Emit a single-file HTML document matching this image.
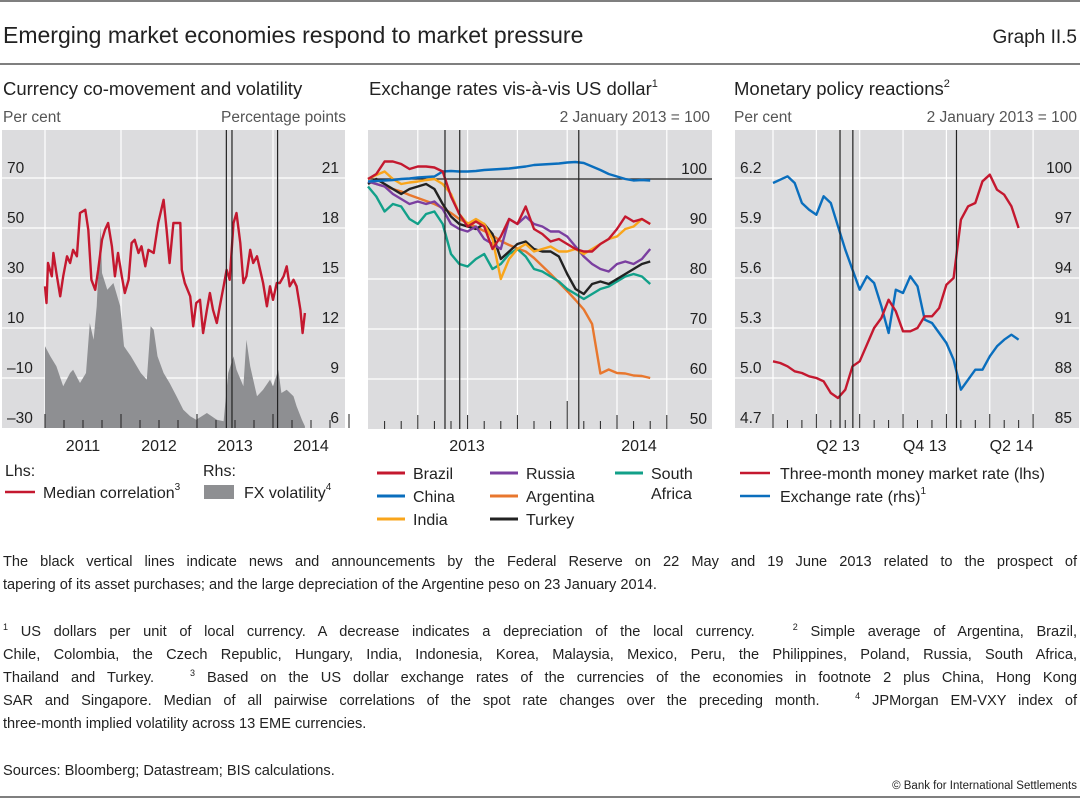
<!DOCTYPE html>
<html><head><meta charset="utf-8"><style>
body{margin:0;background:#fff;}
#wrap{position:relative;width:1080px;height:800px;overflow:hidden;font-family:"Liberation Sans",sans-serif;color:#222;}
.p{position:absolute;left:3px;width:1074px;height:23px;font-size:14.6px;line-height:23px;text-align:justify;text-align-last:justify;white-space:nowrap;overflow:visible;}
.l{text-align-last:left;}
.s{font-size:9px;position:relative;top:-6px;line-height:0;}
</style></head><body>
<div id="wrap">
<svg id="svg" width="1080" height="800" style="position:absolute;left:0;top:0">
<line x1="0" y1="1" x2="1080" y2="1" stroke="#555" stroke-width="1.5"/>
<line x1="0" y1="64" x2="1080" y2="64" stroke="#555" stroke-width="1.5"/>
<line x1="0" y1="797" x2="1080" y2="797" stroke="#555" stroke-width="1.5"/>
<text x="3" y="43" font-size="23" fill="#222">Emerging market economies respond to market pressure</text>
<text x="1077" y="43" font-size="19" fill="#222" text-anchor="end">Graph II.5</text>
<text x="3" y="95" font-size="18.5" fill="#222">Currency co-movement and volatility</text>
<text x="369" y="95" font-size="18.5" fill="#222">Exchange rates vis-à-vis US dollar<tspan font-size="11" dy="-8">1</tspan></text>
<text x="734" y="95" font-size="18.5" fill="#222">Monetary policy reactions<tspan font-size="11" dy="-8">2</tspan></text>
<text x="3" y="122" font-size="15.5" fill="#555">Per cent</text>
<text x="346" y="122" font-size="15.5" fill="#555" text-anchor="end">Percentage points</text>
<text x="710" y="122" font-size="15.5" fill="#555" text-anchor="end">2 January 2013 = 100</text>
<text x="734" y="122" font-size="15.5" fill="#555">Per cent</text>
<text x="1077" y="122" font-size="15.5" fill="#555" text-anchor="end">2 January 2013 = 100</text>
<g id="g1"></g><g id="g2"></g><g id="g3"></g>
<g font-size="16" fill="#222">
<text x="5" y="476">Lhs:</text>
<text x="203" y="476">Rhs:</text>
<line x1="5" y1="492" x2="35" y2="492" stroke="#c4182f" stroke-width="2.5"/>
<text x="43" y="498">Median correlation<tspan font-size="10" dy="-8">3</tspan></text>
<rect x="204" y="485" width="30" height="14" fill="#8e8f92"/>
<text x="244" y="498">FX volatility<tspan font-size="10" dy="-8">4</tspan></text>
</g>
<g id="leg2" font-size="16" fill="#222"></g>
<g font-size="16" fill="#222">
<line x1="740" y1="473" x2="770" y2="473" stroke="#c4182f" stroke-width="2.5"/>
<text x="780" y="479">Three-month money market rate (lhs)</text>
<line x1="740" y1="496" x2="770" y2="496" stroke="#0a6ebd" stroke-width="2.5"/>
<text x="780" y="502">Exchange rate (rhs)<tspan font-size="10" dy="-8">1</tspan></text>
</g>
<text x="1077" y="789" font-size="11.5" fill="#222" text-anchor="end">© Bank for International Settlements</text>
</svg>
<div class="p" style="top:551px">The black vertical lines indicate news and announcements by the Federal Reserve on 22 May and 19 June 2013 related to the prospect of</div>
<div class="p l" style="top:574px">tapering of its asset purchases; and the large depreciation of the Argentine peso on 23 January 2014.</div>
<div class="p" style="top:621px"><span class="s">1</span> US dollars per unit of local currency. A decrease indicates a depreciation of the local currency. &nbsp; <span class="s">2</span> Simple average of Argentina, Brazil,</div>
<div class="p" style="top:644px">Chile, Colombia, the Czech Republic, Hungary, India, Indonesia, Korea, Malaysia, Mexico, Peru, the Philippines, Poland, Russia, South Africa,</div>
<div class="p" style="top:667px">Thailand and Turkey. &nbsp; <span class="s">3</span> Based on the US dollar exchange rates of the currencies of the economies in footnote 2 plus China, Hong Kong</div>
<div class="p" style="top:690px">SAR and Singapore. Median of all pairwise correlations of the spot rate changes over the preceding month. &nbsp; <span class="s">4</span> JPMorgan EM-VXY index of</div>
<div class="p l" style="top:713px">three-month implied volatility across 13 EME currencies.</div>
<div class="p l" style="top:760px">Sources: Bloomberg; Datastream; BIS calculations.</div>
</div>
<script>
const corrDates=[2011.00,2011.02,2011.04,2011.09,2011.11,2011.15,2011.20,2011.24,2011.29,2011.33,2011.37,2011.42,2011.46,2011.53,2011.57,2011.61,2011.66,2011.70,2011.75,2011.79,2011.83,2011.88,2011.92,2011.96,2012.01,2012.05,2012.10,2012.14,2012.18,2012.23,2012.27,2012.32,2012.36,2012.43,2012.49,2012.56,2012.60,2012.64,2012.69,2012.78,2012.80,2012.84,2012.91,2012.95,2012.99,2013.04,2013.08,2013.13,2013.17,2013.21,2013.26,2013.30,2013.35,2013.39,2013.43,2013.48,2013.52,2013.57,2013.61,2013.65,2013.70,2013.74,2013.79,2013.83,2013.87,2013.92,2013.96,2014.00,2014.05,2014.09,2014.14,2014.18,2014.22,2014.27,2014.31,2014.36,2014.39,2014.42];
const corrValues=[26.7,20,36,30.7,40,32,22.7,30.7,38.7,36,41.3,38.7,56,57.3,49.3,29.3,25.3,33.3,45.3,49.3,52,42.7,30.7,40,30.7,24,29.3,44,45.3,40,42.7,34.7,41.3,40,52,61.3,49.3,36,52,52,33.3,28,22.7,10.7,20,21.3,8,17.3,24,17.3,12,18.7,26.7,33.3,29.3,52,56,44,28,30.7,41.3,36,38.7,33.3,28,18.7,26.7,21.3,28,28,30.7,34.7,26.7,29.3,26.7,17.3,8,16];
const volDates=[2011.00,2011.07,2011.15,2011.24,2011.33,2011.37,2011.46,2011.54,2011.59,2011.64,2011.68,2011.73,2011.75,2011.82,2011.90,2011.99,2012.04,2012.13,2012.26,2012.34,2012.39,2012.43,2012.48,2012.56,2012.64,2012.73,2012.82,2012.91,2012.99,2013.13,2013.26,2013.35,2013.41,2013.48,2013.52,2013.61,2013.65,2013.70,2013.79,2013.87,2013.96,2014.00,2014.07,2014.11,2014.18,2014.27,2014.31,2014.38,2014.42];
const volValues=[10.9,10.3,9.7,8.5,9.3,9.5,8.7,9.3,12.3,11.3,13.3,18.1,15.3,14.3,14.7,13.3,10.9,10.3,9.3,8.9,12.1,11.9,10.3,9.3,8.7,7.9,7.1,6.7,6.5,6.9,6.5,6.4,9.3,10.3,9.5,8.5,11.3,9.7,7.9,8.3,8.9,8.5,9.5,8.1,8.3,7.9,7.3,6.5,6.1];
const p1LeftTicks=[70,50,30,10,-10,-30];
const p1RightTicks=[21,18,15,12,9,6];
const p1Years=[2011,2012,2013,2014];
const fxMonths=[0,0.5,1,1.5,2,2.5,3,3.5,4,4.5,5,5.5,6,6.5,7,7.5,8,8.5,9,9.5,10,10.5,11,11.5,12,12.5,13,13.5,14,14.5,15,15.5,16,16.5,17];
const brazil=[100,101,103.5,103.5,103,102,102.5,102.5,102.3,101.5,96.5,93,90.5,91.5,90.5,86,88.5,92,91,94.5,90,89,87.5,88,87,86,85.5,85.5,87,88,90,92.5,91.5,92,91];
const china=[99.5,99.6,99.7,99.8,100,100.1,100.3,100.4,100.5,101.5,101.6,101.5,101.5,101.6,101.8,101.9,102,102.1,102.3,102.5,102.8,102.9,103,103.1,103.3,103.4,103.2,102.5,101.8,101,100.5,100,99.7,99.8,99.7];
const india=[100,100.8,101.5,100,99,99.3,99.5,99.8,100,99,97,93,91,92,91,88,80,84,86,87,85.5,86,86.5,85.5,85.5,86,85,86,87,88,88.5,90,90.5,92,91];
const russia=[99.5,99,98.5,97,96,95,95.5,95,95.5,94,91,90,89.5,90.5,88,87,86,92,91,92.5,91,90.5,89.5,89.5,88.5,86.5,84.5,83,82,81.5,83,83.5,83,84,86];
const turkey=[99,100,99,98,97,98,98.5,99,98,95,92.5,91,90.5,90,91,89,84,85.5,87,87.5,86,85.5,85.5,84.5,81,78,77,79,79.5,79,80,81,82,83,83.5];
const safrica=[98.5,96.5,93.5,95,94.5,92,91,93,93.5,91,85,83,82.5,84,85,82,83,85,86,84.5,82,81.5,80.5,79.5,78,77,76,77,78,78.5,79.5,80.5,81,80.5,79];
const argentina=[99.5,99,98.5,98,97.5,96.8,96.2,95.6,95,94.2,93.2,92,91.2,90.4,89.6,88.7,87.6,86.8,86.1,85.5,84.2,82.6,81,79.3,77.6,75.8,73.9,71,61.1,61.9,61.2,61.1,60.7,60.6,60.2];
const p2Ticks=[100,90,80,70,60,50];
const mpMonths=[0,0.5,1,1.5,2,2.5,3,3.5,4,4.5,5,5.5,6,6.5,7,7.5,8,8.5,9,9.5,10,10.5,11,11.5,12,12.5,13,13.5,14,14.5,15,15.5,16,16.5,17];
const moneyRate=[5.10,5.09,5.07,5.04,5.03,5.01,5.00,4.98,4.91,4.88,4.93,5.07,5.10,5.20,5.30,5.36,5.47,5.40,5.28,5.28,5.30,5.37,5.37,5.42,5.56,5.60,5.95,6.03,6.05,6.18,6.22,6.13,6.10,6.03,5.90];
const exRate=[99.7,99.9,100.1,99.7,98.5,98.1,97.8,98.9,98.5,97.1,95.7,94.5,93.3,94.1,93.7,92.3,90.7,93.3,93.1,94.1,93.5,91.5,91.3,90.7,90.1,89.1,87.3,87.9,88.5,88.5,89.3,89.9,90.3,90.6,90.3];
const p3LeftTicks=[6.2,5.9,5.6,5.3,5.0,4.7];
const p3RightTicks=[100,97,94,91,88,85];
const p3Labels=['Q2 13','Q4 13','Q2 14'];

const NS='http://www.w3.org/2000/svg';
function mk(parent,tag,attrs){const e=document.createElementNS(NS,tag);for(const k in attrs)e.setAttribute(k,attrs[k]);parent.appendChild(e);return e;}
function txt(parent,x,y,s,anchor,size){const t=mk(parent,'text',{x:x,y:y,'font-size':size||15.5,fill:'#222','text-anchor':anchor||'start'});t.textContent=s;return t;}
function path(xs,ys){return xs.map((x,i)=>(i?'L':'M')+x.toFixed(1)+' '+ys[i].toFixed(1)).join('');}

(function(){
const g=document.getElementById('g1');
const X=d=>45+(d-2011)*76, YL=v=>428-(v+30)*2.5, YR=v=>428-(v-6)*50/3;
const bg=mk(g,'rect',{x:2,y:130,width:343,height:298,fill:'#dcdcde'});

p1Years.forEach(y=>{mk(g,'line',{x1:X(y),y1:130,x2:X(y),y2:428,stroke:'#fff','stroke-width':1.2});});
p1LeftTicks.forEach((v,i)=>{if(i<5)mk(g,'line',{x1:2,y1:YL(v),x2:345,y2:YL(v),stroke:'#fff','stroke-width':1.2});
 const t=txt(g,7,YL(v)-5,v<0?'\u2013'+(-v):String(v));});
p1RightTicks.forEach(v=>{const t=txt(g,339,YR(v)-5,String(v),'end');});
const ax=volDates.map(X), ay=volValues.map(YR);
const a=mk(g,'path',{d:path(ax,ay)+'L'+ax[ax.length-1]+' 428L'+ax[0]+' 428Z',fill:'#8e8f92'});

const l=mk(g,'path',{d:path(corrDates.map(X),corrValues.map(YL)),fill:'none',stroke:'#c4182f','stroke-width':2.4,'stroke-linejoin':'round'});

for(let q=0;q<=16;q++){const x=X(2011+q/4);const maj=q%4==0;mk(g,'line',{x1:x,y1:428,x2:x,y2:maj?414:420,stroke:'#222','stroke-width':1});}
[2013+141/365,2013+168/365,2014+22/365].forEach(d=>{const v=mk(g,'line',{x1:X(d),y1:130,x2:X(d),y2:428,stroke:'#222','stroke-width':1.2});});
p1Years.forEach(y=>{const t=txt(g,X(y)+38,451,String(y),'middle',16);});
})();

(function(){
const g=document.getElementById('g2');
const X=t=>368+t*16.6, Y=v=>179+(100-v)*5;
const bg=mk(g,'rect',{x:368,y:130,width:344,height:299,fill:'#dcdcde'});

[3,6,9,12,15,18].forEach(m=>mk(g,'line',{x1:X(m),y1:130,x2:X(m),y2:429,stroke:'#fff','stroke-width':1.2}));
p2Ticks.forEach((v,i)=>{if(i>0&&i<5)mk(g,'line',{x1:368,y1:Y(v),x2:712,y2:Y(v),stroke:'#fff','stroke-width':1.2});
 const t=txt(g,707,Y(v)-5,String(v),'end');});
mk(g,'line',{x1:368,y1:Y(100),x2:712,y2:Y(100),stroke:'#222','stroke-width':1.2});
const series=[['argentina',argentina,'#e8772e'],['south-africa',safrica,'#12a089'],['turkey',turkey,'#222'],['russia',russia,'#7b3fa0'],['india',india,'#f9a51b'],['china',china,'#0a6ebd'],['brazil',brazil,'#c4182f']];
series.forEach(s=>{const p=mk(g,'path',{d:path(fxMonths.map(X),s[1].map(Y)),fill:'none',stroke:s[2],'stroke-width':2.4,'stroke-linejoin':'round'});
 });
for(let m=1;m<=18;m++){const x=X(m);const h=m==12?28:(m%3==0?14:8);mk(g,'line',{x1:x,y1:429,x2:x,y2:429-h,stroke:'#222','stroke-width':1});}
[141,168,386].forEach(d=>{const v=mk(g,'line',{x1:X(d/30.4),y1:130,x2:X(d/30.4),y2:429,stroke:'#222','stroke-width':1.2});});
const t1=txt(g,467,451,'2013','middle',16);
const t2=txt(g,639,451,'2014','middle',16);
const leg=document.getElementById('leg2');
const items=[['Brazil','#c4182f',377,473],['China','#0a6ebd',377,496],['India','#f9a51b',377,519],['Russia','#7b3fa0',490,473],['Argentina','#e8772e',490,496],['Turkey','#222',490,519],['South','#12a089',615,473]];
items.forEach(it=>{const sw=mk(leg,'line',{x1:it[2],y1:it[3],x2:it[2]+28,y2:it[3],stroke:it[1],'stroke-width':3});
 
 const t=txt(leg,it[2]+36,it[3]+6,it[0],'start',16);});
const af=txt(leg,651,499,'Africa','start',16);
})();

(function(){
const g=document.getElementById('g3');
const X=t=>773+t*14.45, YL=v=>178+(6.2-v)*500/3, YR=v=>178+(100-v)*50/3;
const bg=mk(g,'rect',{x:735,y:130,width:344,height:298,fill:'#dcdcde'});

[0,3,6,9,12,15,18].forEach(m=>mk(g,'line',{x1:X(m),y1:130,x2:X(m),y2:428,stroke:'#fff','stroke-width':1.2}));
p3LeftTicks.forEach((v,i)=>{if(i<5)mk(g,'line',{x1:735,y1:YL(v),x2:1079,y2:YL(v),stroke:'#fff','stroke-width':1.2});
 const t=txt(g,740,YL(v)-5,v.toFixed(1));});
p3RightTicks.forEach(v=>{const t=txt(g,1072,YR(v)-5,String(v),'end');});
const e=mk(g,'path',{d:path(mpMonths.map(X),exRate.map(YR)),fill:'none',stroke:'#0a6ebd','stroke-width':2.4,'stroke-linejoin':'round'});

const r=mk(g,'path',{d:path(mpMonths.map(X),moneyRate.map(YL)),fill:'none',stroke:'#c4182f','stroke-width':2.4,'stroke-linejoin':'round'});

for(let m=0;m<=18;m++){const x=X(m);mk(g,'line',{x1:x,y1:428,x2:x,y2:m%3==0?414:420,stroke:'#222','stroke-width':1});}
[141,168,386].forEach(d=>{const v=mk(g,'line',{x1:X(d/30.4),y1:130,x2:X(d/30.4),y2:428,stroke:'#222','stroke-width':1.2});});
p3Labels.forEach((s,i)=>{const t=txt(g,X(4.5+6*i),451,s,'middle',16);});
})();
</script>
</body></html>
